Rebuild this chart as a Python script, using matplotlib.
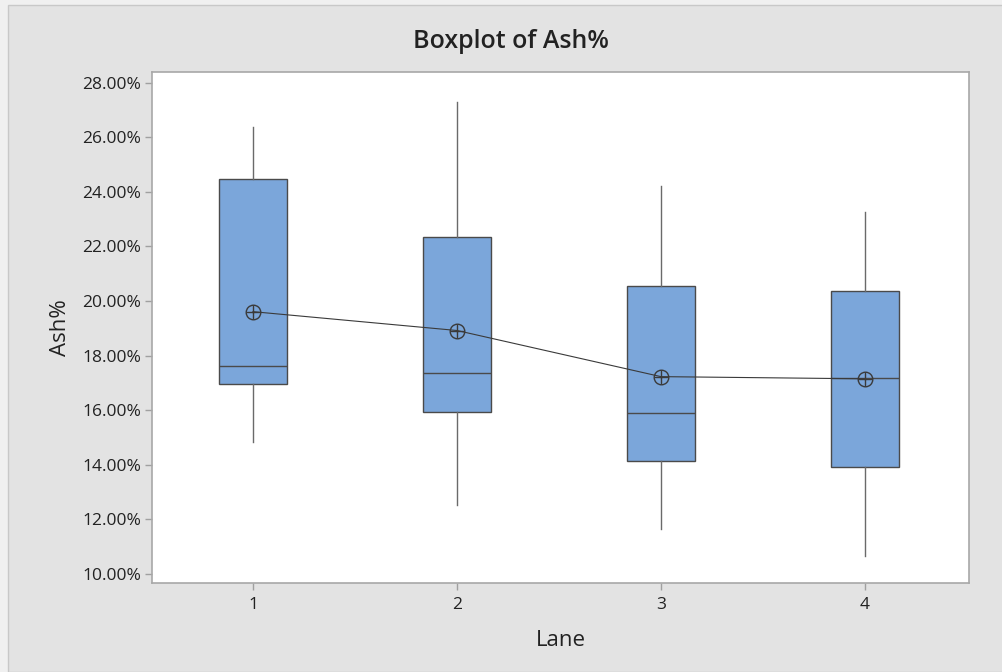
import matplotlib
matplotlib.use("Agg")
import matplotlib.pyplot as plt
from matplotlib.patches import Rectangle
from matplotlib.ticker import FuncFormatter

lanes = ["1", "2", "3", "4"]
whisker_low = [14.85, 12.53, 11.64, 10.67]
q1 = [16.96, 15.95, 14.15, 13.93]
median = [17.62, 17.36, 15.91, 17.17]
q3 = [24.46, 22.36, 20.55, 20.37]
whisker_high = [26.39, 27.29, 24.22, 23.25]
means = [19.61, 18.92, 17.23, 17.15]
y_ticks = [10, 12, 14, 16, 18, 20, 22, 24, 26, 28]

plt.rcParams['font.family'] = ['Open Sans', 'DejaVu Sans']

fig = plt.figure(figsize=(10.03, 6.72), dpi=100)
fig.patch.set_facecolor('#F0F0F0')
W, H = 1003, 672
fig.patches.append(Rectangle((8 / W, 0), 1 - 8 / W, 1 - 5 / H, transform=fig.transFigure,
                             facecolor='#E3E3E3', edgecolor='#C8C8C8', lw=1, zorder=-10))

ax = fig.add_axes([152 / W, 1 - 583 / H, (969 - 152) / W, (583 - 72) / H])
ax.set_facecolor('white')

positions = list(range(1, len(lanes) + 1))
stats = []
for i, lab in enumerate(lanes):
    stats.append(dict(label=lab, whislo=whisker_low[i], q1=q1[i], med=median[i],
                      q3=q3[i], whishi=whisker_high[i], fliers=[]))

ax.bxp(stats, positions=positions, widths=0.333, patch_artist=True, showcaps=False,
       boxprops=dict(facecolor='#7BA6DA', edgecolor='#4A4A4A', linewidth=1.0),
       medianprops=dict(color='#4A4A4A', linewidth=1.0),
       whiskerprops=dict(color='#6A6A6A', linewidth=1.0))

ax.plot(positions, means, color='#3A3A3A', lw=0.8, zorder=4)
ax.plot(positions, means, linestyle='none', marker='o', markersize=10.5, markerfacecolor='none',
        markeredgecolor='#3A3A3A', markeredgewidth=1.0, zorder=5)
ax.plot(positions, means, linestyle='none', marker='+', markersize=10.5,
        markeredgecolor='#3A3A3A', markeredgewidth=1.0, zorder=5)

ax.set_xlim(0.505, 4.51)
ax.set_ylim(9.67, 28.39)
ax.set_yticks(y_ticks)
ax.yaxis.set_major_formatter(FuncFormatter(lambda v, p: f"{v:.2f}%"))
ax.set_xticks(positions)
ax.set_xticklabels(lanes)

for s in ax.spines.values():
    s.set_color('#A8A8A8')
    s.set_linewidth(1.2)
ax.tick_params(axis='both', colors='#A0A0A0', labelcolor='#222222', length=5, width=1,
               labelsize=12.5, pad=3)
ax.tick_params(axis='x', pad=5)

ax.set_ylabel("Ash%", fontsize=16, color='#222222', labelpad=8)
ax.set_xlabel("Lane", fontsize=16, color='#222222', labelpad=12)
fig.text(511 / W, 1 - 42 / H, "Boxplot of Ash%", ha='center', va='center', fontsize=18,
         fontweight='semibold', color='#222222')

fig.savefig("out.png", dpi=100, facecolor=fig.get_facecolor())
